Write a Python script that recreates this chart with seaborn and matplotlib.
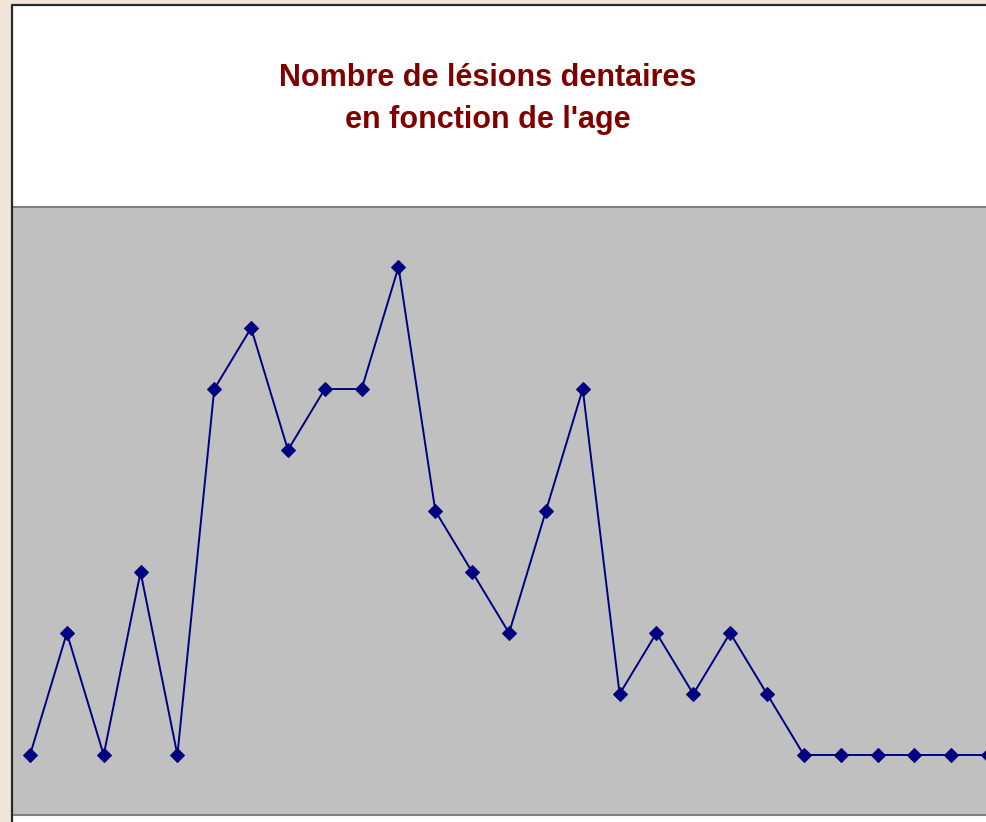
import matplotlib
matplotlib.use("Agg")
import matplotlib.pyplot as plt
import seaborn as sns
import pandas as pd
from matplotlib.patches import Rectangle
from matplotlib.lines import Line2D

ages = list(range(27))
lesions = [0, 2, 0, 3, 0, 6, 7, 5, 6, 6, 8, 4, 3, 2, 4, 6, 1, 2, 1, 2, 1, 0, 0, 0, 0, 0, 0]
title = "Nombre de lésions dentaires\nen fonction de l'age"

df = pd.DataFrame({"age": ages, "lesions": lesions})

sns.set_style("white")
plt.rcParams['font.family'] = ['Liberation Sans', 'DejaVu Sans']

W, H = 987, 822
fig = plt.figure(figsize=(W / 100, H / 100), dpi=100)
fig.patch.set_facecolor("#F2E6DA")

# white chart panel with dark border on left/top
px = 12 / W
fig.patches.append(Rectangle((px, 0), 1.0, (H - 5) / H, transform=fig.transFigure,
                             facecolor="white", edgecolor="none", zorder=-5))
fig.lines.append(Line2D([px, px], [0, (H - 5) / H], transform=fig.transFigure,
                        color="#2a2a2a", lw=1.6, zorder=5))
fig.lines.append(Line2D([px, 1.0], [(H - 5) / H, (H - 5) / H], transform=fig.transFigure,
                        color="#2a2a2a", lw=1.6, zorder=5))

ax_left = 13 / W
ax_bottom = (H - 815) / H
ax_top = (H - 207) / H
ax = fig.add_axes([ax_left, ax_bottom, 1.0 - ax_left, ax_top - ax_bottom])
ax.set_zorder(1)
ax.set_facecolor("#C0C0C0")

sns.lineplot(data=df, x="age", y="lesions", ax=ax, color="#000080", lw=1.4,
             marker="D", markersize=7.4, markeredgecolor="#000080",
             markerfacecolor="#000080")

step = 36.85
ax.set_xlim(-(30 - 13) / step, -(30 - 13) / step + (W - 13) / step)
ax.set_ylim(-(815 - 755) / 61.0, 8 + (267 - 207) / 61.0)
ax.set_xticks([])
ax.set_yticks([])
ax.set_xlabel("")
ax.set_ylabel("")
for side in ["left", "right"]:
    ax.spines[side].set_visible(False)
for side in ["top", "bottom"]:
    ax.spines[side].set_color("#808080")
    ax.spines[side].set_linewidth(1.5)

fig.text(488 / W, 1 - 99 / H, title, ha="center", va="center", color="#800000",
         fontsize=22, fontweight="bold", linespacing=1.5, zorder=6)

fig.savefig("out.png", dpi=100, facecolor=fig.get_facecolor())
